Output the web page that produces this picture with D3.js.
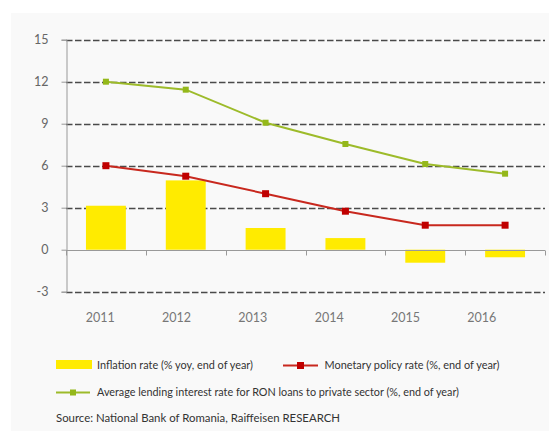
<!DOCTYPE html>
<html>
<head>
<meta charset="utf-8">
<script src="https://cdn.jsdelivr.net/npm/d3@7"></script>
<style>
  body { margin: 0; background: #fff; }
  text { font-family: Lato, "Open Sans", sans-serif; }
</style>
</head>
<body>
<div id="chart"></div>
<script>
// дані
var years = ["2011", "2012", "2013", "2014", "2015", "2016"];
var inflation = [3.14, 4.95, 1.55, 0.83, -0.93, -0.54];
var policyRate = [6.0, 5.25, 4.0, 2.75, 1.75, 1.75];
var lendingRate = [12.0, 11.43, 9.07, 7.55, 6.12, 5.43];
var yTicks = [-3, 0, 3, 6, 9, 12, 15];

var W = 549, H = 432;

var svg = d3.select("#chart")
    .append("svg")
    .attr("width", W)
    .attr("height", H);

// сіра підкладка
svg.append("rect")
    .attr("x", 11).attr("y", 13)
    .attr("width", W - 11).attr("height", H - 14)
    .attr("fill", "#f9f9f9");

var yScale = d3.scaleLinear()
    .domain([-3, 15])
    .range([291.7, 39.7]);

var xScale = d3.scaleBand()
    .domain(years)
    .range([66, 545])
    .paddingInner(0.5)
    .paddingOuter(0.25);

// підписи років трохи зсунуті як в оригіналі
var labelScale = d3.scaleBand()
    .domain(years)
    .range([62, 520]);

// сітка
svg.append("g")
    .selectAll("line")
    .data(yTicks.filter(function(d) { return d !== 0; }))
    .enter()
    .append("line")
    .attr("x1", 66).attr("x2", 545)
    .attr("y1", function(d) { return Math.round(yScale(d)) + 0.5; })
    .attr("y2", function(d) { return Math.round(yScale(d)) + 0.5; })
    .attr("stroke", "#4a4a4a")
    .attr("stroke-width", 1.3)
    .attr("stroke-dasharray", "6.5,2.5");

// вісь y
var yAxis = svg.append("g")
    .attr("transform", "translate(66.5,0)")
    .call(d3.axisLeft(yScale)
        .tickValues(yTicks)
        .tickFormat(function(d) { return String(d); })
        .tickSize(5).tickPadding(13));
yAxis.select(".domain").attr("stroke", "#999");
yAxis.selectAll(".tick line").attr("stroke", "#999");
yAxis.selectAll("text")
    .attr("fill", "#666")
    .style("font-size", "12.5px");

// стовпчики інфляції
svg.append("g")
    .selectAll("rect")
    .data(inflation)
    .enter()
    .append("rect")
    .attr("x", function(d, i) { return xScale(years[i]); })
    .attr("y", function(d) { return yScale(Math.max(0, d)); })
    .attr("width", xScale.bandwidth())
    .attr("height", function(d) { return Math.abs(yScale(d) - yScale(0)); })
    .attr("fill", "#ffeb00");

// нульова лінія з засічками
var y0 = Math.round(yScale(0)) + 0.5;
svg.append("line")
    .attr("x1", 66).attr("x2", 545)
    .attr("y1", y0).attr("y2", y0)
    .attr("stroke", "#999");
var edges = years.map(function(y) { return xScale(y) - xScale.step() * 0.25; });
edges.push(545);
svg.append("g")
    .selectAll("line")
    .data(edges)
    .enter()
    .append("line")
    .attr("x1", function(d) { return Math.round(d) + 0.5; })
    .attr("x2", function(d) { return Math.round(d) + 0.5; })
    .attr("y1", y0).attr("y2", y0 + 5)
    .attr("stroke", "#999");

// підписи років
svg.append("g")
    .selectAll("text")
    .data(years)
    .enter()
    .append("text")
    .attr("x", function(d) { return labelScale(d) + labelScale.bandwidth() / 2; })
    .attr("y", 322)
    .attr("text-anchor", "middle")
    .attr("fill", "#777")
    .style("font-size", "12.5px")
    .text(function(d) { return d; });

function cx(i) { return xScale(years[i]) + xScale.bandwidth() / 2; }

var line = d3.line()
    .x(function(d, i) { return cx(i); })
    .y(function(d) { return yScale(d); });

function drawSeries(values, lineColor, markColor, size) {
    svg.append("path")
        .datum(values)
        .attr("d", line)
        .attr("fill", "none")
        .attr("stroke", lineColor)
        .attr("stroke-width", 2);
    svg.append("g")
        .selectAll("rect")
        .data(values)
        .enter()
        .append("rect")
        .attr("x", function(d, i) { return cx(i) - size / 2; })
        .attr("y", function(d) { return yScale(d) - size / 2; })
        .attr("width", size)
        .attr("height", size)
        .attr("fill", markColor);
}

drawSeries(lendingRate, "#9dbb2a", "#94b81a", 6);
drawSeries(policyRate, "#c8281e", "#c00000", 7);

// легенда
var legend = svg.append("g").style("font-size", "11px").attr("fill", "#333");

legend.append("rect")
    .attr("x", 56).attr("y", 360).attr("width", 36).attr("height", 9)
    .attr("fill", "#ffeb00");
legend.append("text")
    .attr("x", 97).attr("y", 368.5)
    .attr("textLength", 156).attr("lengthAdjust", "spacingAndGlyphs")
    .text("Inflation rate (% yoy, end of year)");

legend.append("line")
    .attr("x1", 283).attr("x2", 318).attr("y1", 365.5).attr("y2", 365.5)
    .attr("stroke", "#c8281e").attr("stroke-width", 2);
legend.append("rect")
    .attr("x", 297).attr("y", 362).attr("width", 7).attr("height", 7)
    .attr("fill", "#c00000");
legend.append("text")
    .attr("x", 324.5).attr("y", 368.5)
    .attr("textLength", 175).attr("lengthAdjust", "spacingAndGlyphs")
    .text("Monetary policy rate (%, end of year)");

legend.append("line")
    .attr("x1", 56).attr("x2", 90).attr("y1", 392.5).attr("y2", 392.5)
    .attr("stroke", "#9dbb2a").attr("stroke-width", 2);
legend.append("rect")
    .attr("x", 70).attr("y", 389.5).attr("width", 6).attr("height", 6)
    .attr("fill", "#94b81a");
legend.append("text")
    .attr("x", 97).attr("y", 396)
    .attr("textLength", 362).attr("lengthAdjust", "spacingAndGlyphs")
    .text("Average lending interest rate for RON loans to private sector (%, end of year)");

legend.append("text")
    .attr("x", 56).attr("y", 421.5)
    .attr("textLength", 284).attr("lengthAdjust", "spacingAndGlyphs")
    .text("Source: National Bank of Romania, Raiffeisen RESEARCH");
</script>
</body>
</html>
